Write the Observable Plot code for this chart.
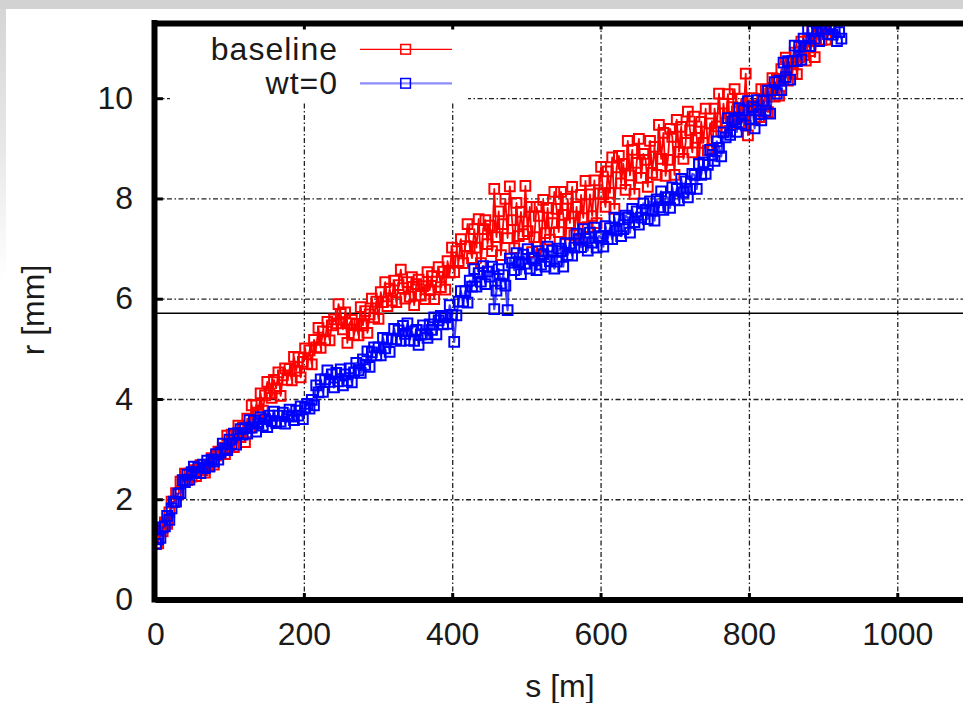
<!DOCTYPE html>
<html><head><meta charset="utf-8">
<script src="https://cdn.jsdelivr.net/npm/d3@7"></script>
<script src="https://cdn.jsdelivr.net/npm/@observablehq/plot@0.6"></script>
<style>
html,body{margin:0;padding:0;overflow:hidden;}
body{width:963px;height:703px;background:
 linear-gradient(#d2d2d2,#d2d2d2) 0 0/100% 9px no-repeat,
 linear-gradient(to bottom,#d4d4d4,#e8e8e8 150px,#fff 280px) 0 0/6px 100% no-repeat,
 #fff;}
#chart{position:absolute;left:0;top:0;}
</style></head><body><div id="chart"></div>
<script>
// ---- data ----
const seriesNames = ["baseline", "wt=0"];
const xTicks = [0, 200, 400, 600, 800, 1000];
const yTicks = [0, 2, 4, 6, 8, 10];
const refLine = [5.72];
const sPos = [
 0,3,6,9,12,15,18,21,24,27, 30,33,36,39,42,45,48,51,54,57,
 60,63,66,69,72,75,78,81,84,87, 90,93,96,99,102,105,108,111,114,117,
 120,123,126,129,132,135,138,141,144,147, 150,153,156,159,162,165,168,171,174,177,
 180,183,186,189,192,195,198,201,204,207, 210,213,216,219,222,225,228,231,234,237,
 240,243,246,249,252,255,258,261,264,267, 270,273,276,279,282,285,288,291,294,297,
 300,303,306,309,312,315,318,321,324,327, 330,333,336,339,342,345,348,351,354,357,
 360,363,366,369,372,375,378,381,384,387, 390,393,396,399,402,405,408,411,414,417,
 420,423,426,429,432,435,438,441,444,447, 450,453,456,459,462,465,468,471,474,477,
 480,483,486,489,492,495,498,501,504,507, 510,513,516,519,522,525,528,531,534,537,
 540,543,546,549,552,555,558,561,564,567, 570,573,576,579,582,585,588,591,594,597,
 600,603,606,609,612,615,618,621,624,627, 630,633,636,639,642,645,648,651,654,657,
 660,663,666,669,672,675,678,681,684,687, 690,693,696,699,702,705,708,711,714,717,
 720,723,726,729,732,735,738,741,744,747, 750,753,756,759,762,765,768,771,774,777,
 780,783,786,789,792,795,798,801,804,807, 810,813,816,819,822,825,828,831,834,837,
 840,843,846,849,852,855,858,861,864,867, 870,873,876,879,882,885,888,891,894,897,
 900,903,906,909,912,915,918,921,924];
const rBaseline = [
 1.12,1.13,1.39,1.37,1.55,1.52,1.75,1.96,1.95,2.13,
 2.11,2.36,2.38,2.52,2.39,2.52,2.46,2.59,2.47,2.59,
 2.69,2.59,2.54,2.7,2.67,2.83,2.7,2.88,2.96,2.91,
 3.04,2.91,3.28,3.09,3.3,3.05,3.3,3.48,3.25,3.44,
 3.15,3.62,3.44,3.88,3.53,3.89,3.74,4.12,3.78,4.08,
 4.35,4.12,4.03,4.39,4.22,4.54,4.07,4.48,4.62,4.39,
 4.61,4.38,4.85,4.57,4.84,4.44,4.75,5.02,4.71,4.98,
 4.7,5.19,5.04,5.43,5.03,5.36,5.19,5.55,5.18,5.48,
 5.6,5.52,5.9,5.71,5.4,5.74,5.13,5.52,5.59,5.29,
 5.51,5.28,5.84,5.48,5.76,5.33,5.7,6.01,5.64,5.95,
 5.61,6.14,5.94,6.34,5.86,6.21,5.97,6.37,5.94,6.28,
 6.59,6.22,6.01,6.34,6.05,6.44,5.88,6.3,6.39,6.07,
 6.26,6.0,6.54,6.18,6.46,6.0,6.35,6.64,6.24,6.55,
 6.19,6.76,6.53,7.03,6.54,6.96,6.76,7.2,6.72,7.06,
 7.5,7.05,6.82,7.4,7.03,7.6,6.72,7.4,7.58,7.1,
 7.47,6.96,8.2,7.24,7.75,6.88,7.5,8.0,7.22,8.25,
 7.58,7.02,7.92,7.26,7.74,7.3,8.26,7.36,7.84,6.94,
 7.24,7.84,7.66,6.88,7.98,7.32,7.82,7.19,7.52,8.14,
 7.8,7.34,8.14,7.68,7.1,8.0,7.52,8.24,7.28,7.84,
 7.18,8.08,7.62,8.36,7.44,8.09,7.66,8.37,7.52,8.11,
 8.64,8.09,7.84,8.55,8.12,8.83,7.8,8.63,8.86,8.31,
 8.7,8.18,9.16,8.47,8.98,8.1,8.72,9.2,8.42,8.9,
 8.78,8.24,9.16,8.52,9.04,8.48,9.48,8.8,9.32,8.46,
 8.78,9.4,9.24,8.48,9.58,8.94,9.44,8.8,9.12,9.74,
 9.37,8.93,9.64,9.22,8.69,9.54,9.12,9.8,8.97,9.51,
 9.0,9.8,9.45,10.1,9.35,9.9,9.52,10.09,9.36,9.83,
 10.19,9.74,9.51,10.0,9.63,10.5,9.27,9.86,10.01,9.58,
 9.86,9.63,10.19,9.85,10.16,9.73,10.1,10.41,10.04,10.38,
 10.06,10.59,10.39,10.82,10.36,10.73,10.52,10.92,10.49,10.83,
 11.14,10.87,10.76,11.16,10.95,11.36,10.83,11.3,11.44,11.17,
 11.41,11.18,11.74,11.4,11.71];
const rWt0 = [
 1.12,1.21,1.24,1.45,1.47,1.68,1.6,1.83,1.96,1.96,
 2.12,2.13,2.39,2.35,2.5,2.4,2.55,2.66,2.55,2.64,
 2.53,2.7,2.63,2.78,2.66,2.8,2.76,2.91,2.8,2.94,
 3.12,3.02,2.99,3.2,3.11,3.32,3.1,3.33,3.41,3.3,
 3.43,3.32,3.59,3.44,3.58,3.36,3.52,3.65,3.48,3.61,
 3.45,3.68,3.57,3.76,3.53,3.68,3.56,3.74,3.52,3.67,
 3.8,3.66,3.59,3.78,3.68,3.86,3.61,3.84,3.91,3.82,
 3.99,3.88,4.28,4.14,4.4,4.15,4.4,4.58,4.35,4.5,
 4.24,4.53,4.36,4.6,4.28,4.5,4.37,4.62,4.34,4.54,
 4.73,4.58,4.53,4.8,4.69,4.96,4.65,4.94,5.04,4.88,
 5.04,4.88,5.23,5.02,5.2,4.95,5.2,5.41,5.2,5.38,
 5.17,5.47,5.31,5.52,5.18,5.36,5.17,5.39,5.09,5.3,
 5.48,5.3,5.23,5.5,5.39,5.64,5.3,5.58,5.67,5.5,
 5.64,5.51,5.88,5.69,5.15,5.68,5.95,6.16,5.95,6.16,
 5.93,6.37,6.25,6.6,6.25,6.52,6.35,6.66,6.3,6.55,
 6.45,6.65,5.8,6.17,6.6,6.31,6.48,6.27,5.78,6.81,
 6.73,6.58,6.92,6.74,6.5,6.89,6.71,7.0,6.61,6.83,
 6.81,6.58,6.96,6.69,6.9,6.65,7.05,6.76,6.97,6.61,
 6.75,7.01,6.96,6.65,7.12,6.88,7.11,6.87,7.03,7.31,
 7.2,7.04,7.4,7.21,6.97,7.33,7.13,7.43,7.03,7.26,
 7.25,7.05,7.46,7.2,7.42,7.2,7.63,7.37,7.6,7.26,
 7.4,7.67,7.63,7.33,7.8,7.54,7.75,7.49,7.63,7.91,
 7.78,7.6,7.95,7.78,7.57,7.99,7.83,8.15,7.78,8.03,
 8.03,7.82,8.23,7.98,8.2,7.97,8.4,8.13,8.35,8.03,
 8.2,8.5,8.48,8.2,8.7,8.48,8.73,8.5,8.68,8.98,
 8.88,8.76,9.15,9.02,8.85,9.33,9.23,9.61,9.28,9.55,
 9.58,9.34,9.81,9.5,9.77,9.47,9.95,9.59,9.83,9.41,
 9.97,9.69,9.57,9.95,9.76,10.16,9.7,10.17,10.33,10.1,
 10.36,10.17,10.72,10.43,10.75,10.38,10.75,11.06,10.75,11.04,
 10.78,11.2,11.05,11.4,11.05,11.35,11.2,11.5,11.15,11.4,
 11.54,11.39,11.29,11.43,11.28,11.42,11.15,11.33,11.2];

const baseline = rBaseline.map((r, i) => ({s: sPos[i], r}));
const wt0 = rWt0.map((r, i) => ({s: sPos[i], r}));

// ---- decorations (legend, axis titles) ----
const FONT = "'Liberation Sans', Arial, Helvetica, sans-serif";
function deco() {
  const g = d3.create("svg:g").attr("font-family", FONT).attr("font-size", 32).attr("fill", "#1a1a1a");
  g.append("rect").attr("x", 170).attr("y", 27).attr("width", 298).attr("height", 74).attr("fill", "#fff");
  const items = [
    {name: seriesNames[0], y: 49.3, base: 60, color: "#ff0000", lw: 1.3, lo: 1},
    {name: seriesNames[1], y: 83.3, base: 94, color: "#0000ff", lw: 2.2, lo: 0.45}
  ];
  for (const it of items) {
    g.append("text").attr("x", 338).attr("y", it.base).attr("text-anchor", "end")
      .attr("letter-spacing", "1px").text(it.name);
    g.append("line").attr("x1", 360).attr("x2", 452).attr("y1", it.y).attr("y2", it.y)
      .attr("stroke", it.color).attr("stroke-width", it.lw).attr("stroke-opacity", it.lo);
    g.append("rect").attr("x", 400.8).attr("y", it.y - 4.8).attr("width", 9.6).attr("height", 9.6)
      .attr("fill", "none").attr("stroke", it.color).attr("stroke-width", 1.5);
  }
  g.append("text").attr("transform", "translate(44,310) rotate(-90)").attr("text-anchor", "middle").text("r [mm]");
  g.append("text").attr("x", 560).attr("y", 697).attr("text-anchor", "middle").text("s [m]");
  return g.node();
}

const grid = {stroke: "#222", strokeWidth: 1.3, strokeDasharray: "5,2.5,1.5,2.5"};

const chart = Plot.plot({
  width: 963, height: 703,
  marginLeft: 155.5, marginRight: 0, marginTop: 23, marginBottom: 103.5,
  style: {background: "transparent", fontFamily: FONT, fontSize: "32px", color: "#1a1a1a", overflow: "visible"},
  x: {domain: [0, 1088.6], ticks: xTicks, tickSize: 0, tickPadding: 22, label: null, tickFormat: d => String(d)},
  y: {domain: [0, 11.5], ticks: yTicks, tickSize: 0, tickPadding: 23, label: null, tickFormat: d => String(d)},
  marks: [
    Plot.ruleX(xTicks.filter(d => d > 0), {x: d => d, ...grid}),
    Plot.ruleY(yTicks.filter(d => d > 0), {y: d => d, ...grid}),
    deco,
    Plot.ruleY(refLine, {y: d => d, stroke: "#000", strokeWidth: 1.4}),
    Plot.line(baseline, {x: "s", y: "r", stroke: "#ff0000", strokeWidth: 1.8, clip: true}),
    Plot.dot(baseline, {x: "s", y: "r", symbol: "square", r: 5.5, stroke: "#ff0000", strokeWidth: 2, fill: "none", clip: true}),
    Plot.line(wt0, {x: "s", y: "r", stroke: "#0000ff", strokeOpacity: 0.75, strokeWidth: 2.2, clip: true}),
    Plot.dot(wt0, {x: "s", y: "r", symbol: "square", r: 5.5, stroke: "#0000ff", strokeWidth: 2, fill: "none", clip: true}),
    Plot.ruleX(xTicks.filter(d => d > 0), {x: d => d, y1: 0, y2: 0.13, stroke: "#000", strokeWidth: 3}),
    Plot.ruleX(xTicks.filter(d => d > 0), {x: d => d, y1: 11.37, y2: 11.5, stroke: "#000", strokeWidth: 3}),
    Plot.ruleY(yTicks.filter(d => d > 0), {y: d => d, x1: 0, x2: 10, stroke: "#000", strokeWidth: 3}),
    Plot.ruleY([0, 11.5], {y: d => d, stroke: "#000", strokeWidth: 6}),
    Plot.ruleX([0], {x: d => d, dx: -1.5, stroke: "#000", strokeWidth: 6, strokeLinecap: "square"})
  ]
});
document.getElementById("chart").appendChild(chart);
</script></body></html>
